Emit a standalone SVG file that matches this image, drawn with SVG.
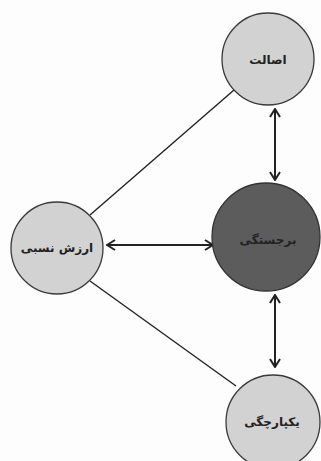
<svg xmlns="http://www.w3.org/2000/svg" width="321" height="461" viewBox="0 0 321 461">
<defs>
<style>
.light{fill:#d2d2d2;stroke:#3a3a3a;stroke-width:1.3}
.dark{fill:#5c5c5c;stroke:#333;stroke-width:1.3}
.lbl{font-family:"DejaVu Sans",sans-serif;font-size:12px;font-weight:bold;fill:#222;text-anchor:middle;dominant-baseline:central}
.conn{stroke:#222;stroke-width:1.4;fill:none}
.arr{stroke:#222;stroke-width:2;fill:none;marker-start:url(#chev);marker-end:url(#chev)}
</style>
<marker id="chev" viewBox="0 0 10 12" refX="9" refY="6" markerWidth="10" markerHeight="12" markerUnits="userSpaceOnUse" orient="auto-start-reverse">
<path d="M1,1 L9,6 L1,11" fill="none" stroke="#222" stroke-width="2"/>
</marker>
</defs>
<rect width="321" height="461" fill="#fdfdfd"/>
<g id="connectors">
<line class="conn" x1="234" y1="90" x2="90" y2="215"/>
<line class="conn" x1="90" y1="281" x2="236" y2="386"/>
<line class="arr" x1="275" y1="109" x2="275" y2="180"/>
<line class="arr" x1="275" y1="295" x2="275" y2="367"/>
<line class="arr" x1="107" y1="245" x2="213" y2="245"/>
</g>
<g id="n-asalat">
<circle class="light" cx="268" cy="59" r="46"/>
<text class="lbl" x="268" y="60">اصالت</text>
</g>
<g id="n-arzesh">
<circle class="light" cx="57" cy="248" r="46"/>
<text class="lbl" x="57" y="248">ارزش نسبی</text>
</g>
<g id="n-barjastegi">
<circle class="dark" cx="266" cy="237" r="54"/>
<text class="lbl" x="268" y="240">برجستگی</text>
</g>
<g id="n-yekparchegi">
<circle class="light" cx="273" cy="422" r="47"/>
<text class="lbl" x="272" y="422">یکپارچگی</text>
</g>
</svg>
